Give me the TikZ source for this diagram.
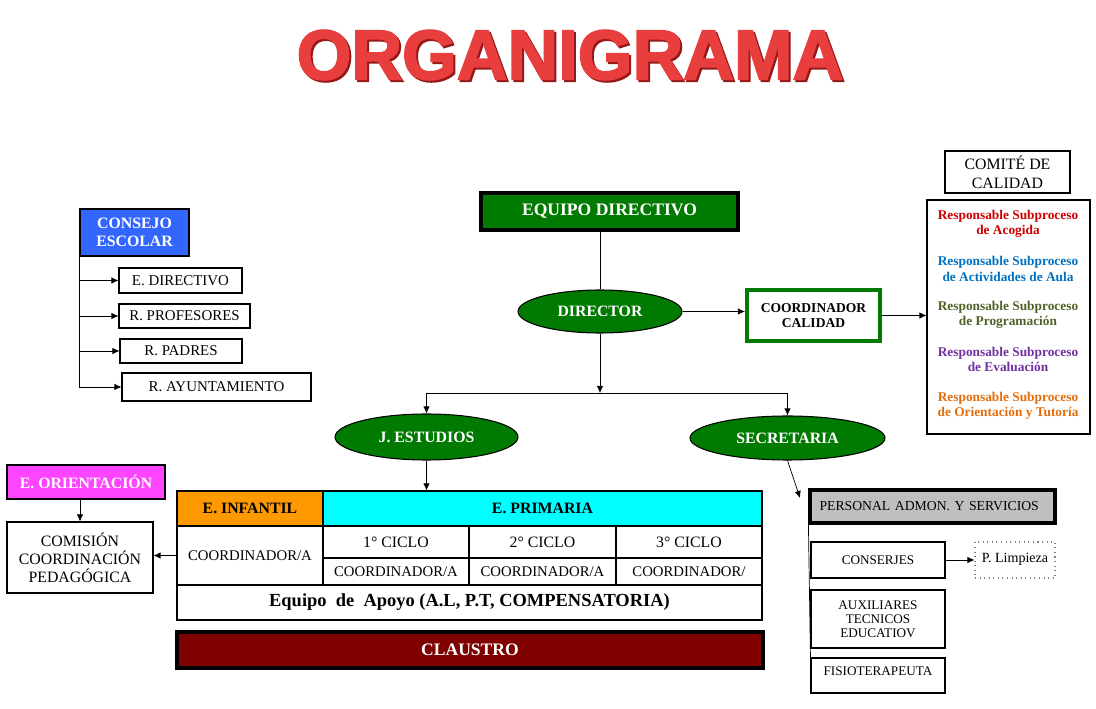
\documentclass[tikz,border=0pt]{standalone}
\usepackage{fontspec}
\setmainfont{Liberation Serif}
\newfontfamily\titlefont{Liberation Sans}[BoldFeatures={FakeBold=2.5}]
\usetikzlibrary{shapes.geometric,arrows.meta}
\definecolor{cblue}{RGB}{51,102,255}
\definecolor{ogreen}{RGB}{0,122,0}
\definecolor{omagenta}{RGB}{255,68,255}
\definecolor{iorange}{RGB}{255,153,0}
\definecolor{pcyan}{RGB}{0,255,255}
\definecolor{claret}{RGB}{128,0,0}
\definecolor{pgray}{RGB}{191,191,191}
\definecolor{tred}{RGB}{232,62,62}
\definecolor{tdark}{RGB}{150,25,25}
\definecolor{rred}{RGB}{204,0,0}
\definecolor{rblue}{RGB}{0,112,192}
\definecolor{rolive}{RGB}{79,98,40}
\definecolor{rpurple}{RGB}{112,48,160}
\definecolor{rorange}{RGB}{228,108,10}
\begin{document}
\begin{tikzpicture}[x=.02cm,y=-.02cm,>={Latex[length=4pt,width=3.6pt]},
  spot/.style args={#1/#2/#3/#4}{at={({(#1+#3)/2},{(#2+#4)/2})},
    minimum width={(#3-#1)*0.02cm},minimum height={(#4-#2)*0.02cm}},
  box/.style={draw,line width=.6pt,inner sep=0pt,align=center,font=\fontsize{8.5}{10}\selectfont},
  hbox/.style={box,line width=1.8pt,font=\fontsize{10}{12}\selectfont\bfseries},
  oval/.style={ellipse,draw,line width=.6pt,fill=ogreen,inner sep=0pt,text=white,font=\fontsize{9}{11}\selectfont\bfseries},
  head/.style={box,font=\fontsize{9}{11}\selectfont\bfseries},
  cell/.style={box,font=\fontsize{9}{11}\selectfont},
  coord/.style={box,font=\fontsize{8.4}{10}\selectfont},
  small/.style={box,font=\fontsize{7.5}{8}\selectfont},
  resp/.style={font=\fontsize{7.6}{8.6}\selectfont\bfseries,align=center},
  titletext/.style={font=\titlefont\fontsize{40}{40}\selectfont\bfseries}]
\useasboundingbox (0,0) rectangle (1096,709);

\node (sombra) [titletext,text=tdark] at (572,57) {ORGANIGRAMA};
\node (titulo) [titletext,text=tred] at (570,55) {ORGANIGRAMA};

% consejo escolar
\node (consejo) [box,fill=cblue,text=white,font=\fontsize{9}{10.5}\selectfont\bfseries,spot=80/209/189/256] {CONSEJO\\ESCOLAR};
\node (edir) [box,spot=119/268/242/293] {E. DIRECTIVO};
\node (rprof) [box,spot=119/304/250/328] {R. PROFESORES};
\node (rpad) [box,spot=120/339/242/363] {R. PADRES};
\node (rayto) [box,spot=122/373/311/401] {R. AYUNTAMIENTO};
\draw (consejo.south west)--(consejo.south west|-rayto.west);
\foreach \n in {edir,rprof,rpad,rayto}
  \draw [->] (consejo.south west|-\n.west)--(\n.west);

% equipo directivo
\node (equipo) [hbox,fill=ogreen,text=white,spot=481/193/738/230] {EQUIPO DIRECTIVO};
\node (director) [oval,spot=518/290/682/333] {DIRECTOR};
\node (coordcal) [box,draw=ogreen,line width=2.3pt,font=\fontsize{7.7}{9}\selectfont\bfseries,spot=747/290/880/341] {COORDINADOR\\CALIDAD};
\draw (equipo.south-|director.north)--(director.north);
\draw [->] (director.east)--(director.east-|coordcal.west);

% comite de calidad
\node (comite) [box,font=\fontsize{9}{11}\selectfont,spot=945/151/1070/193] {COMITÉ DE\\CALIDAD};
\node (respbox) [box,spot=927/200/1090/434] {};
\node (r1) [resp,text=rred] at (1008,223.5) {Responsable Subproceso\\de Acogida};
\node (r2) [resp,text=rblue] at (1008,269) {Responsable Subproceso\\de Actividades de Aula};
\node (r3) [resp,text=rolive] at (1008,314.5) {Responsable Subproceso\\de Programación};
\node (r4) [resp,text=rpurple] at (1008,359.5) {Responsable Subproceso\\de Evaluación};
\node (r5) [resp,text=rorange] at (1008,405.5) {Responsable Subproceso\\de Orientación y Tutoría};
\draw [->] (coordcal.east)--(coordcal.east-|respbox.west);

% jefatura y secretaria
\coordinate (ramal) at (602,393);
\node (jest) [oval,spot=335/414/518/460] {J. ESTUDIOS};
\node (secre) [oval,spot=690/416/885/460] {SECRETARIA};
\draw [->] (director.south)--(director.south|-ramal);
\draw (jest.north|-ramal)--(secre.north|-ramal);
\draw [->] (jest.north|-ramal)--(jest.north);
\draw [->] (secre.north|-ramal)--(secre.north);

% tabla de etapas
\node (inf) [head,fill=iorange,spot=177/491/323/526] {E. INFANTIL};
\node (prim) [head,fill=pcyan,spot=323/491/762/526] {E. PRIMARIA};
\node (infc) [coord,spot=177/526/323/585] {COORDINADOR/A};
\node (c1) [cell,spot=323/526/469/558] {1° CICLO};
\node (c2) [cell,spot=469/526/616/558] {2° CICLO};
\node (c3) [cell,spot=616/526/762/558] {3° CICLO};
\node (k1) [coord,spot=323/558/469/585] {COORDINADOR/A};
\node (k2) [coord,spot=469/558/616/585] {COORDINADOR/A};
\node (k3) [coord,spot=616/558/762/585] {COORDINADOR/};
\node (apoyo) [box,font=\fontsize{10.5}{12}\selectfont\bfseries,spot=177/585/762/620] {Equipo~~de~~Apoyo (A.L, P.T, COMPENSATORIA)};
\node (claustro) [hbox,fill=claret,text=white,spot=177/632/763/668] {CLAUSTRO};
\draw [->] (jest.south)--(jest.south|-prim.north);

% orientacion
\node (orient) [box,fill=omagenta,text=white,font=\fontsize{9}{11}\selectfont\bfseries,spot=7/465/165/499] {E. ORIENTACIÓN};
\node (comision) [box,font=\fontsize{9}{10.2}\selectfont,spot=7/522/153/593] {COMISIÓN\\COORDINACIÓN\\PEDAGÓGICA};
\draw [->] (orient.south-|comision.north)--(comision.north);
\draw [->] (infc.west)--(infc.west-|comision.east);

% personal
\coordinate (pa) at (800,498);
\node (personal) [box,line width=1.8pt,fill=pgray,font=\fontsize{7.8}{9}\selectfont,text width=4.52cm,align=left,spot=810/490/1055/523] {PERSONAL ADMON. Y SERVICIOS};
\node (conserjes) [small,spot=811/542/945/578] {CONSERJES};
\node (limpieza) [box,dotted,draw=gray,font=\fontsize{8}{9}\selectfont,spot=975/542/1055/578] {\raisebox{3pt}{P. Limpieza}};
\node (aux) [small,spot=811/590/945/648] {AUXILIARES\\TECNICOS\\EDUCATIOV};
\node (fisio) [small,spot=811/658/945/693] {\raisebox{5pt}{FISIOTERAPEUTA}};
\draw [->] (secre.south)--(pa);
\draw (personal.south west)--(fisio.north west);
\draw [->] (conserjes.east)--(limpieza.west);
\end{tikzpicture}
\end{document}
